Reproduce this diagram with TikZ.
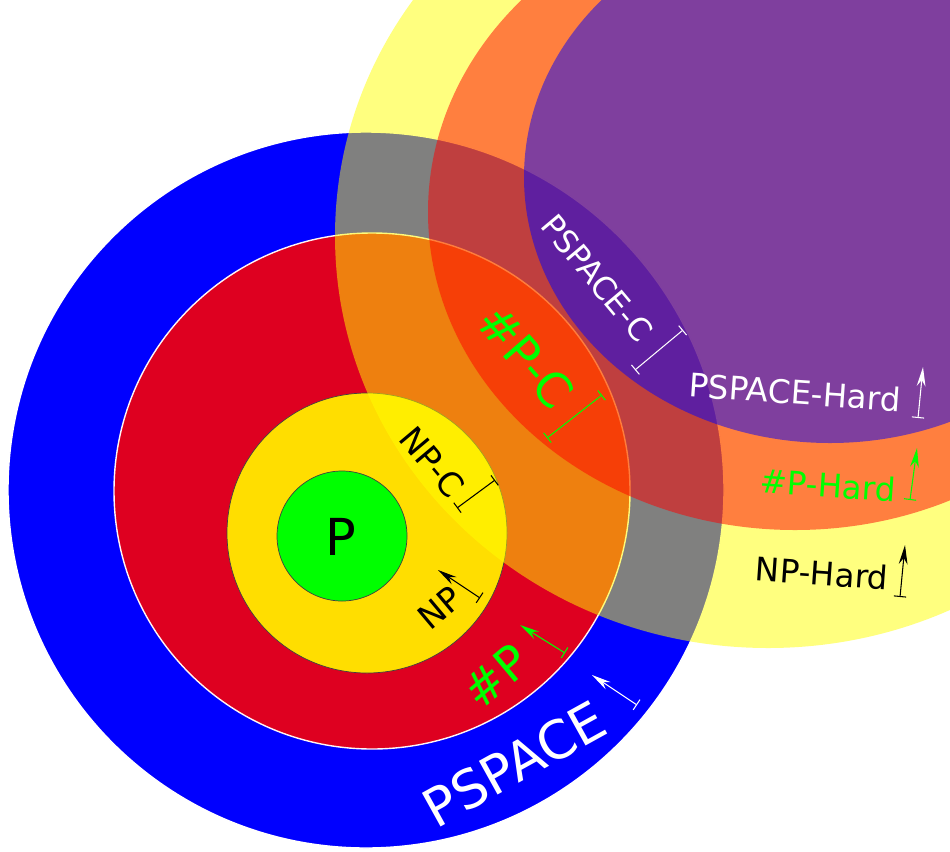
\documentclass[tikz,border=0pt]{standalone}
\usepackage{fontspec}
\setmainfont{DejaVu Sans}
\usetikzlibrary{arrows.meta}

\definecolor{pspaceblue}{RGB}{0,0,255}
\definecolor{sharpred}{RGB}{222,0,32}
\definecolor{npgold}{RGB}{255,222,0}
\definecolor{pgreen}{RGB}{0,255,0}
\definecolor{hardyellow}{RGB}{255,255,0}
\definecolor{hardred}{RGB}{255,0,0}
\definecolor{hardblue}{RGB}{0,0,255}

\begin{document}
\begin{tikzpicture}[x=0.2mm,y=-0.2mm,
    hardset/.style={opacity=0.5},
    classlbl/.style={inner sep=0pt},
    spanmark/.style={line width=0.6pt,{Bar[width=7pt]}-{Bar[width=7pt]}},
    growmark/.style={line width=0.6pt,{Bar[width=7pt]}-{Stealth[length=11pt,width=5pt]}}]
    \useasboundingbox (0,0) rectangle (950,851);
    \clip (0,0) rectangle (950,851);

    % inclusion chain P < NP < #P < PSPACE
    \filldraw[fill=pspaceblue, draw=white, line width=0.8pt] (366,490) circle (358);
    \filldraw[fill=sharpred, draw=white!85!pink, line width=0.8pt] (372,491) circle (258);
    \filldraw[fill=npgold, draw=black!75, line width=0.4pt] (367,533) circle (140);
    \filldraw[fill=pgreen, draw=black!75, line width=0.4pt] (342,536) circle (65);

    % hardness regions, half transparent
    \fill[hardyellow, hardset] (768,236) ellipse [x radius=433, y radius=412];
    \fill[hardred, hardset] (795,212) ellipse [x radius=367, y radius=318];
    \fill[hardblue, hardset] (830,177) ellipse [x radius=306, y radius=266];

    % labels
    \node[classlbl, font=\fontsize{29}{34}\selectfont] (p) at (341,537) {P};
    \node[classlbl, font=\fontsize{19}{23}\selectfont, rotate=40] (np) at (440,608) {NP};
    \node[classlbl, font=\fontsize{19}{23}\selectfont, rotate=-50] (npc) at (432,462) {NP-C};
    \node[classlbl, font=\fontsize{27}{32}\selectfont, text=pgreen, rotate=40] (sp) at (496,676) {\#P};
    \node[classlbl, font=\fontsize{27}{32}\selectfont, text=pgreen, rotate=-49] (spc) at (526,357) {\#P-C};
    \node[classlbl, font=\fontsize{30}{36}\selectfont, text=white, rotate=29] (ps) at (514,764) {PSPACE};
    \node[classlbl, font=\fontsize{18}{22}\selectfont, text=white, rotate=-50] (psc) at (597,278) {PSPACE-C};
    \node[classlbl, font=\fontsize{18.5}{22}\selectfont, text=white, rotate=-4] (psh) at (795,392) {PSPACE-Hard};
    \node[classlbl, font=\fontsize{18.5}{22}\selectfont, text=pgreen, rotate=-4] (sph) at (828,485) {\#P-Hard};
    \node[classlbl, font=\fontsize{18.5}{22}\selectfont, rotate=-4] (nph) at (822,573) {NP-Hard};

    % widths and directions
    \draw[growmark, black] (480,598) -- (438,570);
    \draw[growmark, pgreen] (565,653) -- (520,625);
    \draw[growmark, white] (637,705) -- (592,675);
    \draw[spanmark, black] (495,480) -- (457,508);
    \draw[spanmark, pgreen] (602,395) -- (547,438);
    \draw[spanmark, white] (683,330) -- (635,370);
    \draw[growmark, white] (918,418) -- (923,367);
    \draw[growmark, pgreen] (910,500) -- (917,448);
    \draw[growmark, black] (900,597) -- (905,545);
\end{tikzpicture}
\end{document}
